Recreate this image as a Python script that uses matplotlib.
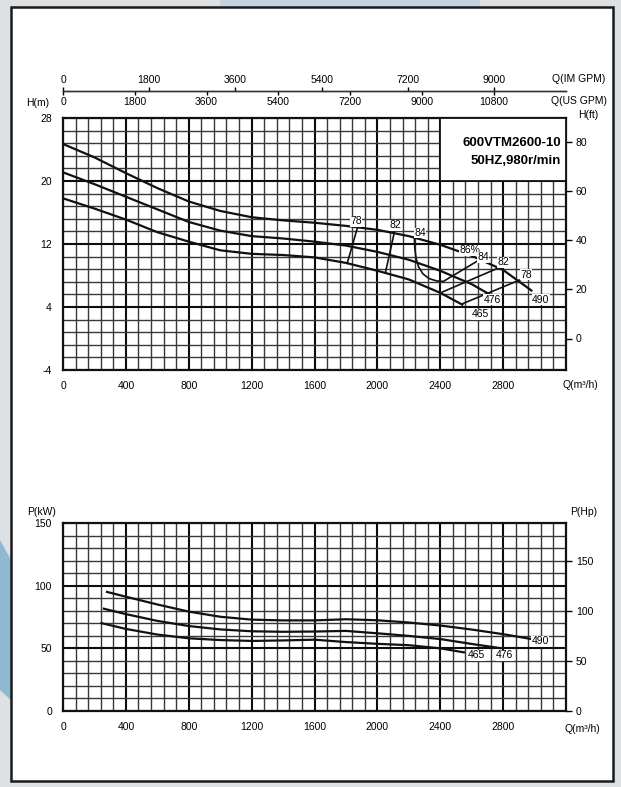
import numpy as np
import matplotlib
matplotlib.use('Agg')
import matplotlib.pyplot as plt
from matplotlib.patches import Rectangle, Polygon

plt.rcParams['font.family'] = ['Liberation Sans', 'DejaVu Sans']
plt.rcParams['axes.unicode_minus'] = False

W, H = 621, 787

# ---- H-Q curves (m3/h, m) for impeller diameters 490 / 476 / 465
q490 = [0, 200, 400, 600, 800, 1000, 1200, 1400, 1600, 1800, 2000, 2200, 2400, 2600, 2800, 2980]
h490 = [24.7, 23.0, 21.0, 19.1, 17.4, 16.2, 15.4, 15.0, 14.7, 14.3, 13.8, 13.0, 11.9, 10.5, 8.7, 6.1]
q476 = [0, 200, 400, 600, 800, 1000, 1200, 1400, 1600, 1800, 2000, 2200, 2400, 2600, 2740]
h476 = [21.1, 19.6, 18.0, 16.4, 14.8, 13.7, 13.0, 12.7, 12.3, 11.8, 11.0, 10.0, 8.6, 6.9, 5.3]
q465 = [0, 200, 400, 600, 800, 1000, 1200, 1400, 1600, 1800, 2000, 2200, 2400, 2540]
h465 = [17.8, 16.5, 15.1, 13.5, 12.3, 11.2, 10.75, 10.6, 10.3, 9.6, 8.6, 7.5, 5.8, 4.3]

# ---- iso-efficiency lines
eff78a_q = [1875, 1808]
eff78a_h = [14.2, 9.55]
eff82a_q = [2108, 2051]
eff82a_h = [13.5, 8.35]
eff84_q = [2235, 2238, 2246, 2262, 2290, 2330, 2380, 2420, 2650]
eff84_h = [12.9, 11.5, 10.2, 9.1, 8.2, 7.6, 7.3, 7.25, 10.0]
eff82b_q = [2413, 2775]
eff82b_h = [5.9, 9.0]
eff78b_q = [2540, 2914]
eff78b_h = [4.4, 7.5]

# ---- P-Q curves (m3/h, kW)
qp490 = [280, 400, 600, 800, 1000, 1200, 1400, 1600, 1800, 2000, 2200, 2400, 2600, 2800, 3000]
p490 = [95.0, 91.2, 85.0, 79.3, 75.2, 72.9, 72.3, 72.3, 73.2, 72.4, 70.6, 68.2, 65.0, 61.3, 57.0]
qp476 = [260, 400, 600, 800, 1000, 1200, 1400, 1600, 1800, 2000, 2200, 2400, 2600, 2780]
p476 = [81.6, 77.3, 71.9, 67.8, 65.1, 63.6, 63.2, 63.4, 63.9, 62.0, 59.9, 57.4, 53.5, 50.2]
qp465 = [245, 400, 600, 800, 1000, 1200, 1400, 1600, 1800, 2000, 2200, 2400, 2550]
p465 = [70.1, 65.5, 61.0, 58.0, 56.6, 55.9, 56.3, 56.9, 55.0, 53.6, 52.5, 50.0, 46.8]

q_ticks = [0, 400, 800, 1200, 1600, 2000, 2400, 2800]
h_ticks = [-4, 4, 12, 20, 28]
ft_ticks = [0, 20, 40, 60, 80]
p_ticks = [0, 50, 100, 150]
hp_ticks = [0, 50, 100, 150]
im_ticks = [0, 1800, 3600, 5400, 7200, 9000]
us_ticks = [0, 1800, 3600, 5400, 7200, 9000, 10800]

FS = 7.5
LINE = '#111111'


def px(x, y):
    return x / W, 1 - y / H


fig = plt.figure(figsize=(W / 100, H / 100), dpi=100, facecolor='#dde1e4')
# bluish bits of the page background around the frame
fig.add_artist(Polygon([px(0, 540), px(11, 560), px(11, 700), px(0, 690)], closed=True,
                       transform=fig.transFigure, facecolor='#8fb8d2', edgecolor='none', zorder=-2))
fig.add_artist(Rectangle(px(220, 7), 260 / W, 7 / H, transform=fig.transFigure,
                         facecolor='#c4d3dc', edgecolor='none', zorder=-2))
fig.add_artist(Rectangle(px(11, 781), 602 / W, 774 / H, transform=fig.transFigure,
                         facecolor='white', edgecolor='#1a1a1a', lw=1.8, zorder=-1))


def grid_axes(rect, ylim, yminor, yticks):
    ax = fig.add_axes(rect)
    ax.set_xlim(0, 3200)
    ax.set_ylim(*ylim)
    ax.set_xticks(q_ticks)
    ax.set_xticks(np.arange(0, 3201, 80), minor=True)
    ax.set_yticks(yticks)
    ax.set_yticks(np.arange(ylim[0], ylim[1] + 0.01, yminor), minor=True)
    ax.grid(which='minor', color='#383838', lw=1.0)
    ax.grid(which='major', color='#0d0d0d', lw=1.5)
    ax.tick_params(which='both', length=0, labelsize=FS, pad=8)
    for s in ax.spines.values():
        s.set_linewidth(1.6)
        s.set_color('#111111')
    return ax


# ================= H-Q chart =================
ax1 = grid_axes([63 / W, 1 - 370 / H, 503 / W, 252 / H], (-4, 28), 1.6, h_ticks)

ax1.plot(q490, h490, color=LINE, lw=1.6, zorder=4)
ax1.plot(q476, h476, color=LINE, lw=1.6, zorder=4)
ax1.plot(q465, h465, color=LINE, lw=1.6, zorder=4)
for qq, hh in [(eff78a_q, eff78a_h), (eff82a_q, eff82a_h), (eff84_q, eff84_h),
               (eff82b_q, eff82b_h), (eff78b_q, eff78b_h)]:
    ax1.plot(qq, hh, color=LINE, lw=1.2, zorder=4)

for t, x, y in [('78', 1865, 14.9), ('82', 2115, 14.4), ('84', 2270, 13.4),
                ('86%', 2590, 11.2), ('84', 2672, 10.3), ('82', 2800, 9.7),
                ('78', 2945, 8.1), ('490', 3040, 4.9), ('476', 2730, 4.9),
                ('465', 2655, 3.1)]:
    ax1.text(x, y, t, fontsize=FS, ha='center', va='center', zorder=5,
             bbox=dict(facecolor='white', edgecolor='none', pad=0.3))

ax1.add_patch(Rectangle((2400, 20), 800, 8, facecolor='white', edgecolor='#111111',
                        lw=1.3, zorder=3))
ax1.text(3170, 24.8, '600VTM2600-10', fontsize=9.5, fontweight='bold', ha='right',
         va='center', zorder=5)
ax1.text(3170, 22.5, '50HZ,980r/min', fontsize=9.5, fontweight='bold', ha='right',
         va='center', zorder=5)

ft = ax1.secondary_yaxis('right', functions=(lambda m: m * 3.2, lambda f: f / 3.2))
ft.set_yticks(ft_ticks)
ft.tick_params(length=4, width=1, labelsize=FS, pad=3)
ft.spines['right'].set_visible(False)

loc = (370 - 91) / 252
im = ax1.secondary_xaxis(loc, functions=(lambda q: q * 3.281, lambda g: g / 3.281))
im.set_xticks(im_ticks)
im.tick_params(length=3, width=1, labelsize=FS, pad=1)
us = ax1.secondary_xaxis(loc, functions=(lambda q: q * 3.94, lambda g: g / 3.94))
us.set_alignment('bottom')
us.set_xticks(us_ticks)
us.tick_params(length=3, width=1, labelsize=FS, pad=1)
for a in (im, us):
    for s in a.spines.values():
        s.set_linewidth(1.0)
        s.set_color('#333333')

fig.text(*px(579, 79), 'Q(IM GPM)', fontsize=FS, ha='center', va='center')
fig.text(*px(579, 101), 'Q(US GPM)', fontsize=FS, ha='center', va='center')
fig.text(*px(38, 103), 'H(m)', fontsize=FS, ha='center', va='center')
fig.text(*px(588, 115), 'H(ft)', fontsize=FS, ha='center', va='center')
fig.text(*px(580, 385), 'Q(m³/h)', fontsize=FS, ha='center', va='center')

# ================= P-Q chart =================
ax2 = grid_axes([63 / W, 1 - 711 / H, 503 / W, 188 / H], (0, 150), 10, p_ticks)

ax2.plot(qp490, p490, color=LINE, lw=1.6, zorder=4)
ax2.plot(qp476, p476, color=LINE, lw=1.6, zorder=4)
ax2.plot(qp465, p465, color=LINE, lw=1.6, zorder=4)
for t, x, y in [('490', 3035, 55.5), ('476', 2810, 44.5), ('465', 2632, 44.5)]:
    ax2.text(x, y, t, fontsize=FS, ha='center', va='center', zorder=5,
             bbox=dict(facecolor='white', edgecolor='none', pad=0.3))

hp = ax2.secondary_yaxis('right', functions=(lambda k: k * 1.25, lambda h: h / 1.25))
hp.set_yticks(hp_ticks)
hp.tick_params(length=4, width=1, labelsize=FS, pad=3)
hp.spines['right'].set_visible(False)

fig.text(*px(42, 512), 'P(kW)', fontsize=FS, ha='center', va='center')
fig.text(*px(584, 512), 'P(Hp)', fontsize=FS, ha='center', va='center')
fig.text(*px(582, 729), 'Q(m³/h)', fontsize=FS, ha='center', va='center')

fig.savefig('out.png', dpi=100, facecolor=fig.get_facecolor())
